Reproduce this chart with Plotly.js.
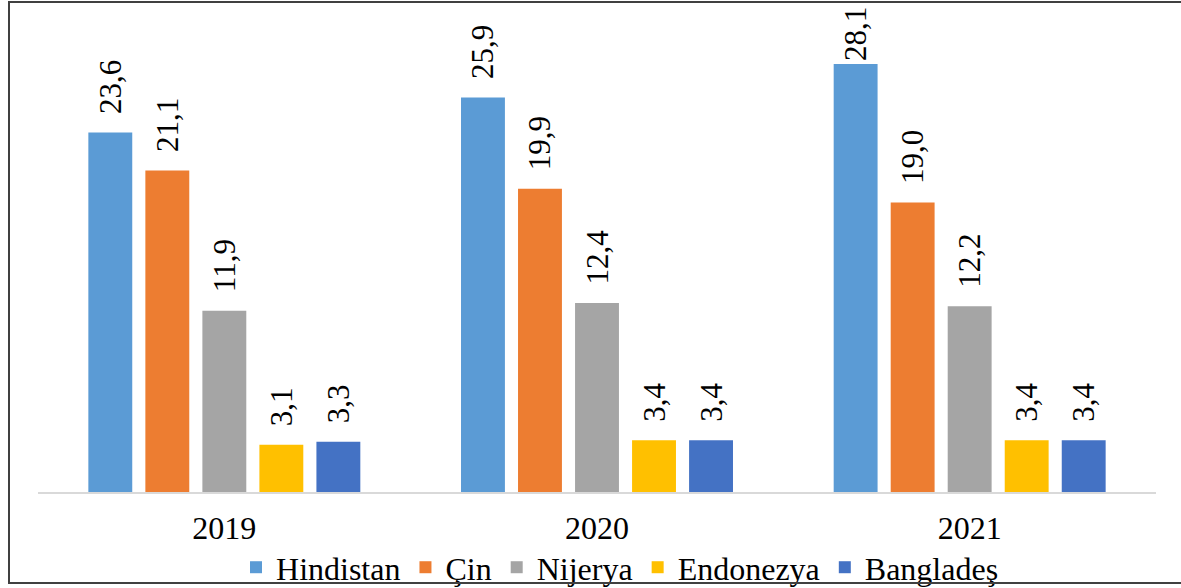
<!DOCTYPE html>
<html><head><meta charset="utf-8">
<script src="https://cdn.plot.ly/plotly-3.0.1.min.js"></script>
<style>
body{margin:0;padding:0;background:#fff;}
#wrap{position:relative;width:1181px;height:588px;}
#chart{width:1181px;height:588px;}
#frame{position:absolute;left:8px;top:1px;width:1180px;height:583px;border:2px solid #404040;border-right:none;pointer-events:none;box-sizing:border-box;}
</style></head>
<body>
<div id="wrap"><div id="chart"></div><div id="frame"></div></div>
<script>
const years = ['2019', '2020', '2021'];
const seriesNames = ['Hindistan', 'Çin', 'Nijerya', 'Endonezya', 'Bangladeş'];
const hindistan = [23.6, 25.9, 28.1];
const cin = [21.1, 19.9, 19.0];
const nijerya = [11.9, 12.4, 12.2];
const endonezya = [3.1, 3.4, 3.4];
const banglades = [3.3, 3.4, 3.4];
const colors = ['#5B9BD5', '#ED7D31', '#A5A5A5', '#FFC000', '#4472C4'];

const values = [hindistan, cin, nijerya, endonezya, banglades];
const maxVal = Math.max(...values.flat());
const font = '"Times New Roman", "Liberation Serif", Times, serif';
const traces = values.map((v, i) => ({
  type: 'bar', name: seriesNames[i], x: years, y: v,
  marker: {color: colors[i]},
  texttemplate: v.map(x => x === maxVal ? '%{y:.1f}' : '\u00a0\u00a0%{y:.1f}'),
  textposition: 'outside', textangle: -90,
  constraintext: 'none',
  textfont: {family: font, size: 31, color: '#000'},
  cliponaxis: false, hoverinfo: 'skip'
}));

const layout = {
  width: 1181, height: 588,
  margin: {l: 38, r: 25, t: 35, b: 96, autoexpand: false},
  paper_bgcolor: '#fff', plot_bgcolor: '#fff',
  separators: ',.',
  barmode: 'group', bargap: 0.235, bargroupgap: 0.23,
  font: {family: font, size: 32, color: '#000'},
  xaxis: {showline: true, linecolor: '#d9d9d9', linewidth: 1.5, ticks: '', showgrid: false,
          ticklabelstandoff: 7,
          tickfont: {family: font, size: 32, color: '#000'}},
  yaxis: {range: [0, 30], visible: false, showgrid: false, zeroline: false},
  showlegend: true,
  legend: {orientation: 'h', x: 0.525, xanchor: 'center', xref: 'container', yref: 'container',
           y: 0.035, yanchor: 'middle',
           font: {family: font, size: 32, color: '#000'}, itemwidth: 30, traceorder: 'normal'},
};
Plotly.newPlot('chart', traces, layout, {displayModeBar: false, staticPlot: true});
</script>
</body></html>
